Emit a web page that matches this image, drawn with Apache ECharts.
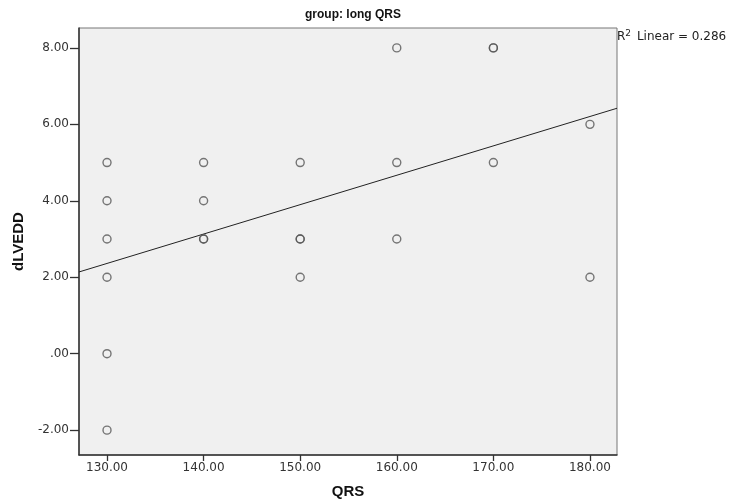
<!DOCTYPE html>
<html>
<head>
<meta charset="utf-8">
<title>group: long QRS</title>
<script src="https://cdn.jsdelivr.net/npm/echarts@6/dist/echarts.min.js"></script>
<style>
  html, body { margin: 0; padding: 0; background: #fff; }
  #chart { width: 732px; height: 504px; }
</style>
</head>
<body>
<div id="chart"></div>
<script>
// QRS (x) vs dLVEDD (y), group: long QRS
const qrs    = [130, 130, 130, 130, 130, 130, 140, 140, 140, 140, 150, 150, 150, 150, 160, 160, 160, 170, 170, 170, 180, 180];
const dlvedd = [5,   4,   3,   2,   0,   -2,  5,   4,   3,   3,   5,   3,   3,   2,   8,   5,   3,   8,   8,   5,   6,   2];
const xTicks = [130, 140, 150, 160, 170, 180];
const yTicks = [-2, 0, 2, 4, 6, 8];
const xRange = [127.1, 182.8];
const yRange = [-2.65, 8.52];
const r2Label = '0.286';

// least squares fit line
function linearFit(xs, ys) {
  const n = xs.length;
  const mx = xs.reduce((a, b) => a + b, 0) / n;
  const my = ys.reduce((a, b) => a + b, 0) / n;
  let sxy = 0, sxx = 0;
  for (let i = 0; i < n; i++) {
    sxy += (xs[i] - mx) * (ys[i] - my);
    sxx += (xs[i] - mx) * (xs[i] - mx);
  }
  const slope = sxy / sxx;
  return { slope, intercept: my - slope * mx };
}

const fit = linearFit(qrs, dlvedd);
const fitLine = xRange.map(x => [x, fit.intercept + fit.slope * x]);
const points = qrs.map((x, i) => [x, dlvedd[i]]);

function fmtY(v) {
  if (v === 0) return '.00';
  return v.toFixed(2);
}

const chart = echarts.init(document.getElementById('chart'));
const font = 'Liberation Sans, Arial, sans-serif';
const tickFont = 'DejaVu Sans, sans-serif';

const option = {
  animation: false,
  backgroundColor: '#fff',
  textStyle: { fontFamily: font },
  title: [
    {
      text: 'group: long QRS',
      left: 348,
      textAlign: 'center',
      top: 4,
      textStyle: { fontSize: 12, fontWeight: 'bold', color: '#111', fontFamily: font }
    },
    {
      text: 'R{sup|2} Linear = ' + r2Label,
      left: 617,
      top: 29,
      padding: 0,
      textStyle: {
        fontSize: 12, fontWeight: 'normal', color: '#222', fontFamily: tickFont,
        rich: { sup: { fontSize: 9, fontFamily: tickFont, verticalAlign: 'top', padding: [0, 2, 6, 0], color: '#222' } }
      }
    }
  ],
  grid: {
    left: 79, right: 115, top: 28, bottom: 49,
    show: true,
    backgroundColor: '#f0f0f0',
    borderColor: '#777',
    borderWidth: 1
  },
  xAxis: {
    type: 'value',
    min: xRange[0],
    max: xRange[1],
    name: 'QRS',
    nameLocation: 'middle',
    nameGap: 29,
    nameTextStyle: { fontSize: 15, fontWeight: 'bold', color: '#111', fontFamily: font },
    axisLine: { show: true, onZero: false, lineStyle: { color: '#333', width: 1.5 } },
    axisTick: { show: true, length: 6, customValues: xTicks, lineStyle: { color: '#333', width: 1.3 } },
    axisLabel: {
      customValues: xTicks,
      formatter: v => v.toFixed(2),
      fontSize: 12, color: '#333', margin: 7, fontFamily: tickFont
    },
    splitLine: { show: false }
  },
  yAxis: {
    type: 'value',
    min: yRange[0],
    max: yRange[1],
    name: 'dLVEDD',
    nameLocation: 'middle',
    nameGap: 53,
    nameRotate: 90,
    nameTextStyle: { fontSize: 15, fontWeight: 'bold', color: '#111', fontFamily: font },
    axisLine: { show: true, onZero: false, lineStyle: { color: '#333', width: 1.5 } },
    axisTick: { show: true, length: 9, customValues: yTicks, lineStyle: { color: '#333', width: 1.3 } },
    axisLabel: {
      customValues: yTicks,
      formatter: fmtY,
      fontSize: 12, color: '#333', margin: 10, fontFamily: tickFont
    },
    splitLine: { show: false }
  },
  series: [
    {
      type: 'line',
      data: fitLine,
      symbol: 'none',
      lineStyle: { color: '#222', width: 1 },
      silent: true,
      z: 2
    },
    {
      type: 'scatter',
      data: points,
      symbol: 'circle',
      symbolSize: 8,
      itemStyle: { color: 'rgba(0,0,0,0)', borderColor: '#555', borderWidth: 1.4 },
      z: 3
    }
  ]
};

chart.setOption(option);
window.addEventListener('resize', chart.resize);
</script>
</body>
</html>
